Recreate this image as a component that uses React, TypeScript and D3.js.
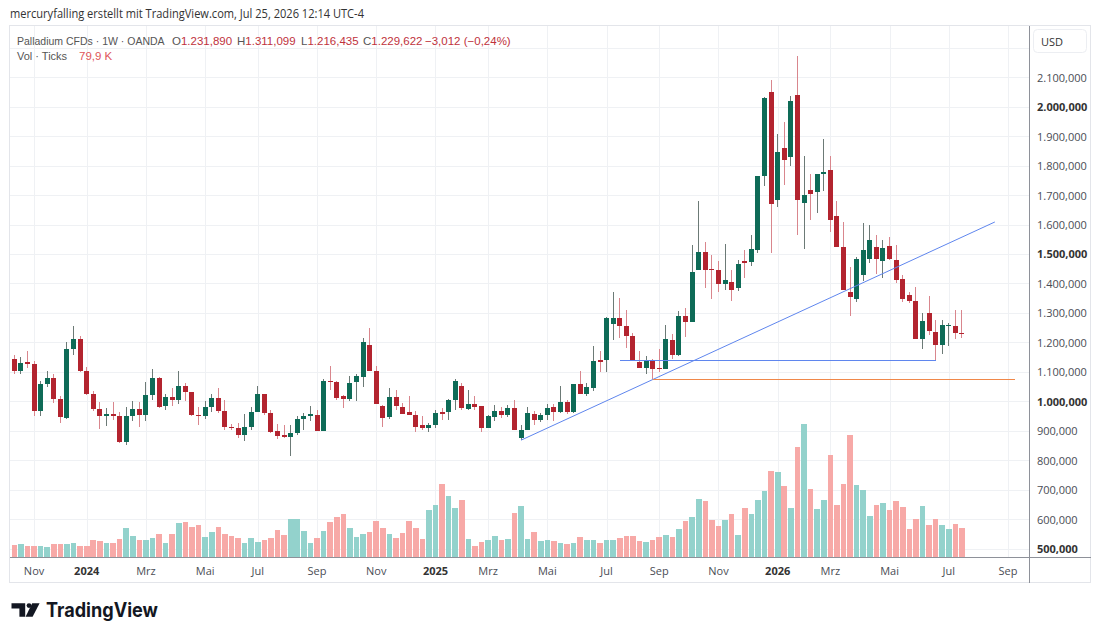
import React from 'react';
import * as d3 from 'd3';

const WIDTH = 1100;
const HEIGHT = 639;

// weekly bars starting Monday 2023-10-16, Palladium CFD (OANDA)
const FIRST_WEEK = '2023-10-16';

const opens = [
  1145, 1102, 1133, 1127, 966, 1060, 1079, 1008, 944, 1179,
  1213, 1102, 1026, 974, 949, 958, 949, 861, 949, 975,
  953, 1023, 1080, 983, 1015, 1003, 1053, 1031, 955, 949,
  980, 1010, 966, 912, 910, 885, 914, 965, 1024, 961,
  898, 887, 878, 891, 940, 949, 954, 898, 1068, 1064,
  1017, 1008, 1064, 1083, 1192, 1104, 985, 947, 1015, 981,
  963, 955, 918, 910, 918, 963, 963, 1006, 1053, 974,
  992, 983, 910, 947, 966, 955, 977, 874, 904, 957,
  936, 952, 980, 963, 998, 964, 1059, 1025, 1045, 1139,
  1141, 1264, 1283, 1255, 1223, 1134, 1113, 1136, 1113, 1111,
  1209, 1158, 1288, 1268, 1445, 1508, 1449, 1447, 1399, 1405,
  1384, 1475, 1472, 1515, 1764, 2050, 1682, 1860, 1829, 2038,
  1673, 1718, 1709, 1772, 1786, 1628, 1524, 1372, 1348, 1428,
  1483, 1523, 1475, 1526, 1479, 1416, 1362, 1342, 1212, 1298,
  1234, 1192, 1258, 1257, 1231.89,
];
const highs = [
  1158, 1151, 1170, 1136, 1068, 1102, 1091, 1017, 1201, 1257,
  1223, 1115, 1036, 997, 977, 997, 963, 981, 1000, 997,
  1066, 1111, 1082, 1026, 1045, 1104, 1062, 1033, 981, 1000,
  1026, 1045, 1006, 923, 927, 958, 980, 1053, 1026, 972,
  923, 921, 919, 949, 961, 985, 972, 1077, 1121, 1068,
  1022, 1087, 1094, 1215, 1249, 1121, 987, 1045, 1040, 994,
  1017, 966, 951, 927, 972, 977, 1008, 1074, 1062, 1040,
  1017, 985, 952, 986, 981, 988, 1003, 918, 981, 966,
  961, 991, 992, 1053, 1004, 1058, 1102, 1062, 1187, 1170,
  1285, 1370, 1351, 1309, 1232, 1170, 1153, 1144, 1178, 1260,
  1230, 1306, 1315, 1532, 1679, 1541, 1498, 1477, 1535, 1444,
  1479, 1515, 1566, 1765, 2032, 2092, 1908, 1947, 2037, 2171,
  1834, 1772, 1772, 1891, 1831, 1680, 1609, 1457, 1490, 1605,
  1597, 1566, 1549, 1558, 1532, 1430, 1370, 1388, 1300, 1359,
  1275, 1275, 1267, 1309, 1311.099,
];
const lows = [
  1092, 1091, 1113, 951, 951, 1049, 994, 927, 940, 1158,
  1098, 1020, 968, 906, 915, 936, 858, 853, 932, 912,
  932, 1003, 977, 972, 985, 992, 1000, 951, 921, 940,
  963, 961, 904, 904, 876, 865, 904, 964, 955, 893,
  872, 876, 813, 887, 904, 932, 898, 898, 1040, 1006,
  977, 1000, 1000, 1049, 1102, 991, 913, 941, 972, 958,
  955, 895, 904, 895, 910, 936, 936, 972, 972, 972,
  972, 895, 910, 932, 944, 947, 904, 868, 904, 918,
  930, 938, 932, 960, 958, 960, 1026, 1019, 1034, 1098,
  1100, 1209, 1215, 1181, 1136, 1113, 1094, 1074, 1098, 1108,
  1144, 1155, 1218, 1268, 1445, 1385, 1347, 1370, 1379, 1340,
  1373, 1419, 1458, 1504, 1730, 1504, 1660, 1735, 1800, 1566,
  1517, 1614, 1639, 1713, 1574, 1524, 1377, 1289, 1337, 1407,
  1470, 1433, 1419, 1481, 1402, 1336, 1332, 1212, 1178, 1226,
  1139, 1162, 1189, 1212, 1216.435,
];
const closes = [
  1102, 1130, 1127, 966, 1060, 1079, 1008, 946, 1179, 1213,
  1102, 1026, 974, 949, 958, 949, 861, 949, 975, 953,
  1023, 1080, 981, 1015, 1003, 1053, 1031, 953, 949, 980,
  1010, 966, 912, 909, 885, 912, 964, 1026, 961, 895,
  881, 878, 891, 940, 949, 957, 898, 1068, 1064, 1011,
  1008, 1062, 1085, 1200, 1102, 991, 944, 1015, 983, 958,
  955, 913, 908, 919, 961, 958, 1006, 1070, 976, 991,
  981, 910, 949, 966, 955, 977, 904, 904, 960, 936,
  955, 978, 963, 998, 964, 1057, 1026, 1048, 1138, 1134,
  1283, 1283, 1255, 1223, 1136, 1113, 1136, 1111, 1111, 1212,
  1158, 1288, 1268, 1439, 1506, 1447, 1447, 1399, 1411, 1379,
  1466, 1471, 1518, 1764, 2029, 1670, 1846, 1820, 2020, 1682,
  1699, 1705, 1772, 1779, 1614, 1524, 1379, 1355, 1484, 1512,
  1549, 1483, 1519, 1484, 1413, 1347, 1339, 1212, 1272, 1240,
  1192, 1258, 1260, 1232.634, 1229.622,
];
// tick volume, thousands
const volumes = [
  33.9, 36.6, 31.1, 31.1, 30.3, 28.4, 36.6, 36.6, 36.6, 39.4,
  29.5, 31.1, 46.8, 44.9, 39.4, 39.4, 50.4, 80.7, 58.7, 46.8,
  46.8, 53.2, 64.2, 39.4, 64.2, 93.7, 96.4, 83.5, 87.3, 55.1,
  69.7, 83.5, 64.2, 57.0, 53.2, 39.4, 53.2, 42.2, 46.8, 53.2,
  73.6, 61.4, 104.7, 105.5, 72.5, 38.6, 53.2, 72.5, 96.4, 110.2,
  118.5, 80.7, 55.1, 63.4, 69.7, 98.4, 80.7, 63.4, 53.2, 66.9,
  100.0, 79.9, 50.4, 128.7, 144.1, 201.9, 168.9, 135.0, 157.9, 50.4,
  29.5, 42.2, 47.7, 58.7, 46.8, 50.4, 122.0, 141.3, 50.4, 69.7,
  44.1, 47.7, 44.1, 39.4, 35.0, 39.4, 54.3, 46.0, 46.0, 39.4,
  46.0, 46.0, 52.3, 58.7, 58.7, 44.1, 42.2, 46.0, 54.3, 59.8,
  54.3, 78.0, 98.4, 110.2, 160.6, 153.5, 102.8, 86.2, 101.1, 119.3,
  61.4, 135.0, 118.5, 157.9, 181.0, 236.9, 234.2, 194.8, 135.0, 302.2,
  365.6, 186.5, 131.4, 156.2, 281.8, 143.3, 200.3, 336.9, 198.4, 183.8,
  112.1, 143.3, 149.6, 128.7, 154.3, 136.9, 78.0, 103.9, 139.7, 87.3,
  103.9, 87.3, 76.3, 90.1, 79.9,
];

const monthTicks = [
  '2023-11-06', '2024-01-01', '2024-03-04', '2024-05-06', '2024-07-01', '2024-09-02',
  '2024-11-04', '2025-01-06', '2025-03-03', '2025-05-05', '2025-07-07', '2025-09-01',
  '2025-11-03', '2026-01-05', '2026-03-02', '2026-05-04', '2026-07-06', '2026-09-07',
];
const monthLabels = [
  'Nov', '2024', 'Mrz', 'Mai', 'Jul', 'Sep',
  'Nov', '2025', 'Mrz', 'Mai', 'Jul', 'Sep',
  'Nov', '2026', 'Mrz', 'Mai', 'Jul', 'Sep',
];
const priceTicks = d3.range(500, 2101, 100);
const priceGrid = d3.range(500, 2201, 100);

// user drawings, as [week index, price]
const trendLine = [[77, 868], [149, 1608.6]];
const supportLine = [[92, 1139], [140, 1139]];
const lowLine = [[97, 1074], [152, 1074]];

const UP = '#0e6b57';
const DOWN = '#b3242f';
const UP_WICK = '#6c7a76';
const DOWN_WICK = '#d9868d';
const VOL_UP = '#93d2cc';
const VOL_DOWN = '#f7a9a7';
const TEXT = '#4a4d55';
const GRID = '#eff1f4';
const FONT = "'Open Sans', 'Liberation Sans', sans-serif";
const LEGEND_FONT = "'Liberation Sans', Arial, sans-serif";

const pane = { left: 10, right: 1029.5, top: 25.5, bottom: 557 };

const locale = d3.formatLocale({ decimal: ',', thousands: '.', grouping: [3], currency: ['', ''], minus: '\u2212' });
const fmtPrice = locale.format(',.3f');
const fmtPct = locale.format(',.2f');
const fmtVol = locale.format(',.1f');

const start = new Date(FIRST_WEEK);
const weekDate = (i: number) => d3.utcDay.offset(start, i * 7);

const x = d3.scaleUtc()
  .domain([new Date('2024-01-01'), new Date('2026-01-05')])
  .range([86.7, 777.7]);
const y = d3.scaleLinear().domain([500, 2100]).range([548.6, 77.2]);
const yVol = d3.scaleLinear().domain([0, 400]).range([557, 411.8]);

const linePoint = ([w, p]: number[]) => [x(weekDate(w)), y(p)];
const snap = (v: number) => Math.round(v) + 0.5;

function Logo() {
  return (
    <g fill="#131722">
      <path d="M11.5 603.3 H25.2 V616.8 H19.4 V608.6 H11.5 Z" />
      <circle cx={29} cy={605.6} r={2.4} />
      <path d="M32.2 603.3 H39.6 L32.6 616.8 H25.6 Z" />
      <text x={46} y={616.5} fontSize={19.5} fontWeight={700} fontFamily="Inter, 'Noto Sans', sans-serif"
        textLength={112} lengthAdjust="spacingAndGlyphs">TradingView</text>
    </g>
  );
}

export default function App() {
  const last = opens.length - 1;
  const change = closes[last] - closes[last - 1];
  const changePct = (change / closes[last - 1]) * 100;
  const headerRed = '#c0323c';

  const bars = opens.map((o, i) => ({
    cx: x(weekDate(i)),
    o, h: highs[i], l: lows[i], c: closes[i], v: volumes[i],
    up: closes[i] >= o,
  }));

  const ohlc = [
    { k: 'O', v: opens[last], at: 172 },
    { k: 'H', v: highs[last], at: 237 },
    { k: 'L', v: lows[last], at: 301 },
    { k: 'C', v: closes[last], at: 363 },
  ];

  const [ta, tb] = trendLine.map(linePoint);
  const [sa, sb] = supportLine.map(linePoint);
  const [la, lb] = lowLine.map(linePoint);

  return (
    <div style={{ position: 'absolute', left: 0, top: 0 }}>
      <svg width={WIDTH} height={HEIGHT} style={{ display: 'block', background: '#fff' }} fontFamily={FONT}>
        <defs>
          <clipPath id="pane-clip">
            <rect x={pane.left} y={pane.top} width={pane.right - pane.left} height={pane.bottom - pane.top} />
          </clipPath>
        </defs>

        <text x={10} y={17.5} fontSize={12.5} fill="#333" textLength={354} lengthAdjust="spacingAndGlyphs">
          mercuryfalling erstellt mit TradingView.com, Jul 25, 2026 12:14 UTC-4
        </text>

        {/* grid */}
        <g shapeRendering="crispEdges" stroke={GRID} strokeWidth={1}>
          {priceGrid.map(p => (
            <line key={p} x1={pane.left} x2={pane.right} y1={snap(y(p))} y2={snap(y(p))} />
          ))}
          {monthTicks.map(d => {
            const px = snap(x(new Date(d)));
            return <line key={d} x1={px} x2={px} y1={pane.top} y2={pane.bottom} />;
          })}
        </g>

        <g clipPath="url(#pane-clip)" shapeRendering="crispEdges">
          {/* volume */}
          {bars.map((b, i) => {
            const x0 = Math.round(b.cx - 2.8);
            const x1 = Math.round(b.cx + 2.8);
            return (
              <rect key={'v' + i} x={x0} width={x1 - x0} y={yVol(b.v)} height={yVol(0) - yVol(b.v)}
                fill={b.up ? VOL_UP : VOL_DOWN} />
            );
          })}

          {/* candles */}
          {bars.map((b, i) => {
            const wx = Math.round(b.cx - 0.5);
            const top = y(Math.max(b.o, b.c));
            const bottom = y(Math.min(b.o, b.c));
            return (
              <g key={'c' + i}>
                <rect x={wx} width={1} y={y(b.h)} height={y(b.l) - y(b.h)} fill={b.up ? UP_WICK : DOWN_WICK} />
                <rect x={wx - 2} width={5} y={top} height={Math.max(1, bottom - top)} fill={b.up ? UP : DOWN} />
              </g>
            );
          })}
        </g>

        {/* drawings */}
        <g clipPath="url(#pane-clip)" fill="none" strokeWidth={1}>
          <line x1={ta[0]} y1={ta[1]} x2={tb[0]} y2={tb[1]} stroke="#5f86ee" />
          <line x1={sa[0]} y1={snap(sa[1])} x2={sb[0]} y2={snap(sb[1])} stroke="#5f86ee" shapeRendering="crispEdges" />
          <line x1={la[0]} y1={snap(la[1])} x2={lb[0]} y2={snap(lb[1])} stroke="#f0884a" shapeRendering="crispEdges" />
        </g>

        {/* legend */}
        <g fontFamily={LEGEND_FONT}>
          <text x={17} y={45} fontSize={10.5} fill="#555">Palladium CFDs · 1W · OANDA</text>
          <text y={45} fontSize={11.5} fill="#555">
            {ohlc.map(d => (
              <React.Fragment key={d.k}>
                <tspan x={d.at}>{d.k}</tspan>
                <tspan fill={headerRed}>{fmtPrice(d.v)}</tspan>
              </React.Fragment>
            ))}
            <tspan x={425} fill={headerRed}>{fmtPrice(change)} ({fmtPct(changePct)}%)</tspan>
          </text>
          <text x={17} y={60} fontSize={11} fill="#555">Vol · Ticks</text>
          <text x={79} y={60} fontSize={11.5} fill="#e0555a">{fmtVol(volumes[last])} K</text>
        </g>

        {/* frame and axes */}
        <g shapeRendering="crispEdges" fill="none">
          <rect x={9.5} y={25.5} width={1081} height={557} stroke="#e3e5ea" />
          <line x1={1029.5} x2={1029.5} y1={25.5} y2={582.5} stroke="#8e9199" />
          <line x1={9.5} x2={1090.5} y1={557.5} y2={557.5} stroke="#8e9199" />
        </g>

        <rect x={1033.5} y={29.5} width={53} height={23} rx={4} fill="#fff" stroke="#eceef2" />
        <text x={1041} y={41} dominantBaseline="central" fontSize={11} fill="#333">USD</text>

        <g fontSize={11}>
          {priceTicks.map(p => {
            const bold = p % 500 === 0;
            return (
              <text key={p} x={1037} y={y(p)} dominantBaseline="central"
                fontWeight={bold ? 700 : 400} fill={bold ? '#333' : TEXT}>
                {fmtPrice(p)}
              </text>
            );
          })}
        </g>

        <g fontSize={11} textAnchor="middle">
          {monthTicks.map((d, i) => {
            const year = /^\d{4}$/.test(monthLabels[i]);
            return (
              <text key={d} x={x(new Date(d))} y={570} dominantBaseline="central"
                fontWeight={year ? 700 : 400} fill={year ? '#333' : TEXT}>
                {monthLabels[i]}
              </text>
            );
          })}
        </g>

        <Logo />
      </svg>
    </div>
  );
}
